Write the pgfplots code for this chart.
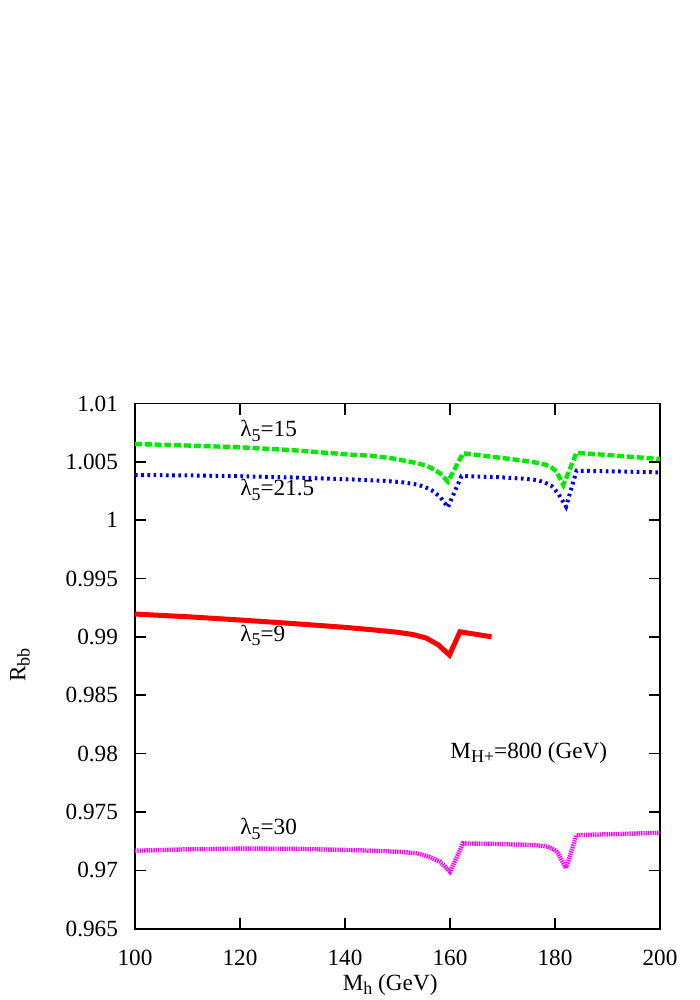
\documentclass[border=0pt]{standalone}
\usepackage{pgfplots}
\pgfplotsset{compat=1.18}
\usepackage{fontspec}
\setmainfont{Liberation Serif}
\definecolor{cgreen}{RGB}{0,235,0}
\definecolor{cblue}{RGB}{0,0,240}
\definecolor{cred}{RGB}{255,0,0}
\definecolor{cmag}{RGB}{255,0,255}
\newcommand\sub[1]{\raisebox{-0.4ex}{\fontsize{9}{10}\selectfont #1}}
\begin{document}
\begin{tikzpicture}
\path[use as bounding box] (0,0) rectangle (350pt,500pt);
\begin{axis}[
  at={(67.5pt,35.65pt)}, anchor=south west,
  scale only axis, width=262.5pt, height=262.6pt,
  xmin=100, xmax=200, ymin=0.965, ymax=1.01,
  xtick={100,120,140,160,180,200},
  xticklabels={100,120,140,160,180,200},
  ytick={0.965,0.97,0.975,0.98,0.985,0.99,0.995,1,1.005,1.01},
  yticklabels={0.965,0.97,0.975,0.98,0.985,0.99,0.995,1,1.005,1.01},
  tick align=inside, major tick length=5.5pt,
  xtick pos=both, ytick pos=both,
  axis line style={line width=0.9pt},
  every tick/.style={line width=0.8pt, black},
  tick label style={font=\fontsize{11.6}{13}\selectfont},
  xticklabel style={yshift=-7pt},
  yticklabel style={xshift=-5pt},
  xlabel={M\sub{h} (GeV)},
  ylabel={R\sub{bb}},
  label style={font=\fontsize{11.6}{13}\selectfont},
  xlabel style={at={(axis description cs:0.486,-0.107)}, anchor=center},
  ylabel style={at={(axis description cs:-0.219,0.502)}, anchor=center, rotate=0},
  clip=true,
]
% lambda5 = 15 (green dashed)
\addplot[color=cgreen, line width=2.2pt, dash pattern=on 3.5pt off 1.4pt] coordinates {
(100,1.00653) (110,1.00640) (120,1.00625) (130,1.00600) (141,1.00562)
(145,1.00552) (149,1.00530) (152.4,1.00501) (154.5,1.00480) (156.2,1.00453) (158.1,1.00402) (159.6,1.00330)
(162.5,1.00573) (166,1.00555) (170.5,1.00530) (174,1.00510) (176.5,1.00493) (178,1.00478) (179.2,1.00458) (180.3,1.00416) (181.6,1.00302)
(184.1,1.00578) (191.7,1.00553) (200,1.00524)};
% lambda5 = 21.5 (blue dotted)
\addplot[color=cblue, line width=2pt, dash pattern=on 1.3pt off 1.8pt] coordinates {
(100,1.00387) (110,1.00384) (120,1.00377) (130,1.00366) (141,1.00350)
(147.3,1.00338) (151,1.00325) (153.7,1.00306) (155.2,1.00285) (156.5,1.00257) (158.1,1.00201) (159.6,1.00111)
(162.2,1.00379) (169.5,1.00368) (174,1.00356) (176.5,1.00344) (178,1.00325) (179.3,1.00296) (180.6,1.00230) (182.1,1.00116)
(184.1,1.00424) (191.7,1.00418) (200,1.00410)};
% lambda5 = 9 (red solid)
\addplot[color=cred, line width=2.5pt] coordinates {
(100,0.99196) (110,0.99173) (120,0.99145) (130,0.99115) (140,0.99082)
(145,0.99062) (150,0.99040) (153,0.99020) (155.5,0.98990) (157.8,0.98931) (159.9,0.98845)
(161.9,0.99044) (167.9,0.99001)};
% lambda5 = 30 (magenta fine dotted)
\addplot[color=cmag, line width=2.2pt, dash pattern=on 0.7pt off 0.45pt] coordinates {
(100,0.97168) (110,0.97180) (120,0.97186) (130,0.97185) (141,0.97174)
(147.3,0.97165) (151,0.97157) (153.7,0.97146) (156,0.97117) (158.1,0.97074) (160,0.96988)
(162.5,0.97231) (170,0.97225) (176,0.97216) (178.5,0.97205) (179.8,0.97180) (180.6,0.97146) (182.1,0.97017)
(184.1,0.97302) (192,0.97311) (200,0.97322)};
\node[anchor=west, inner sep=0pt, font=\fontsize{11.6}{13}\selectfont] at (axis cs:120,1.00764) {λ\sub{5}=15};
\node[anchor=west, inner sep=0pt, font=\fontsize{11.6}{13}\selectfont] at (axis cs:120,1.00259) {λ\sub{5}=21.5};
\node[anchor=west, inner sep=0pt, font=\fontsize{11.6}{13}\selectfont] at (axis cs:120,0.99016) {λ\sub{5}=9};
\node[anchor=west, inner sep=0pt, font=\fontsize{11.6}{13}\selectfont] at (axis cs:120,0.97354) {λ\sub{5}=30};
\node[anchor=west, inner sep=0pt, font=\fontsize{11.6}{13}\selectfont] at (axis cs:160,0.98009) {M\sub{H+}=800 (GeV)};
\end{axis}
\end{tikzpicture}
\end{document}
